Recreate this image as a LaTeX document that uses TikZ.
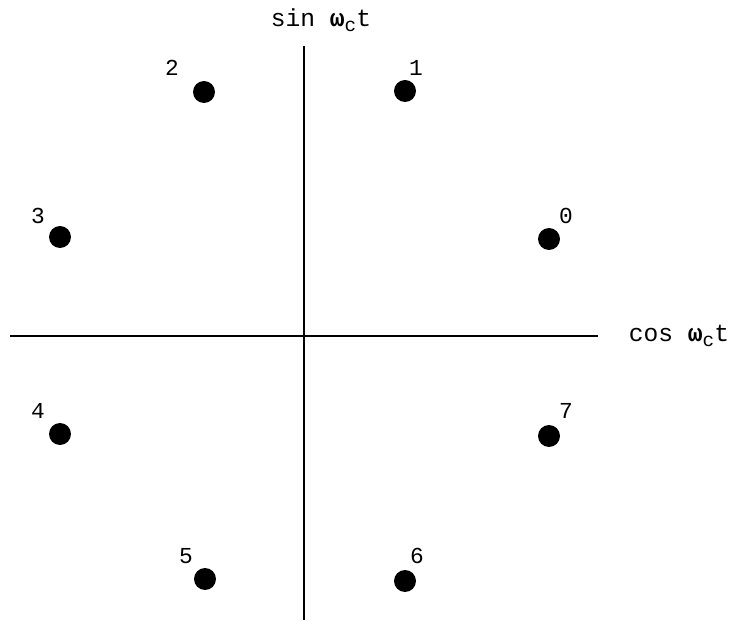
\documentclass[tikz,border=0pt]{standalone}
\usepackage{fontspec}
\setmainfont{Liberation Mono}
\usetikzlibrary{positioning}
\tikzset{
  axis/.style={line width=1.4pt},
  symdot/.style={circle, fill=black, inner sep=0pt, minimum size=0.44cm},
  symlabel/.style={font=\fontsize{13}{15}\selectfont, inner sep=0pt},
  axislabel/.style={font=\fontsize{14}{16}\selectfont, inner sep=0pt}
}
\newcommand{\omc}{\textbf{ω}\raisebox{-0.4ex}{\fontsize{11}{12}\selectfont c}}
\begin{document}
\begin{tikzpicture}[x=0.02cm, y=-0.02cm]
  \useasboundingbox (0,0) rectangle (744,634);
  % axes
  \coordinate (top) at (304,46);
  \coordinate (bottom) at (304,620);
  \coordinate (left) at (10,336);
  \coordinate (right) at (598,336);
  \draw[axis] (top) -- (bottom);
  \draw[axis] (left) -- (right);
  \node[axislabel] (sinlab) at (321,20) {sin \omc t};
  \node[axislabel] (coslab) at (679,336) {cos \omc t};
  % constellation points
  \node[symdot] (p0) at (549,239) {};
  \node[symdot] (p1) at (405,91) {};
  \node[symdot] (p2) at (204,92) {};
  \node[symdot] (p3) at (60,237) {};
  \node[symdot] (p4) at (60,434) {};
  \node[symdot] (p5) at (205,579) {};
  \node[symdot] (p6) at (405,581) {};
  \node[symdot] (p7) at (549,436) {};
  % labels
  \node[symlabel] (l0) at (566,216) {0};
  \node[symlabel] (l1) at (416,68) {1};
  \node[symlabel] (l2) at (172,68) {2};
  \node[symlabel] (l3) at (38,216) {3};
  \node[symlabel] (l4) at (38,411) {4};
  \node[symlabel] (l5) at (186,556) {5};
  \node[symlabel] (l6) at (417,556) {6};
  \node[symlabel] (l7) at (566,411) {7};
\end{tikzpicture}
\end{document}
